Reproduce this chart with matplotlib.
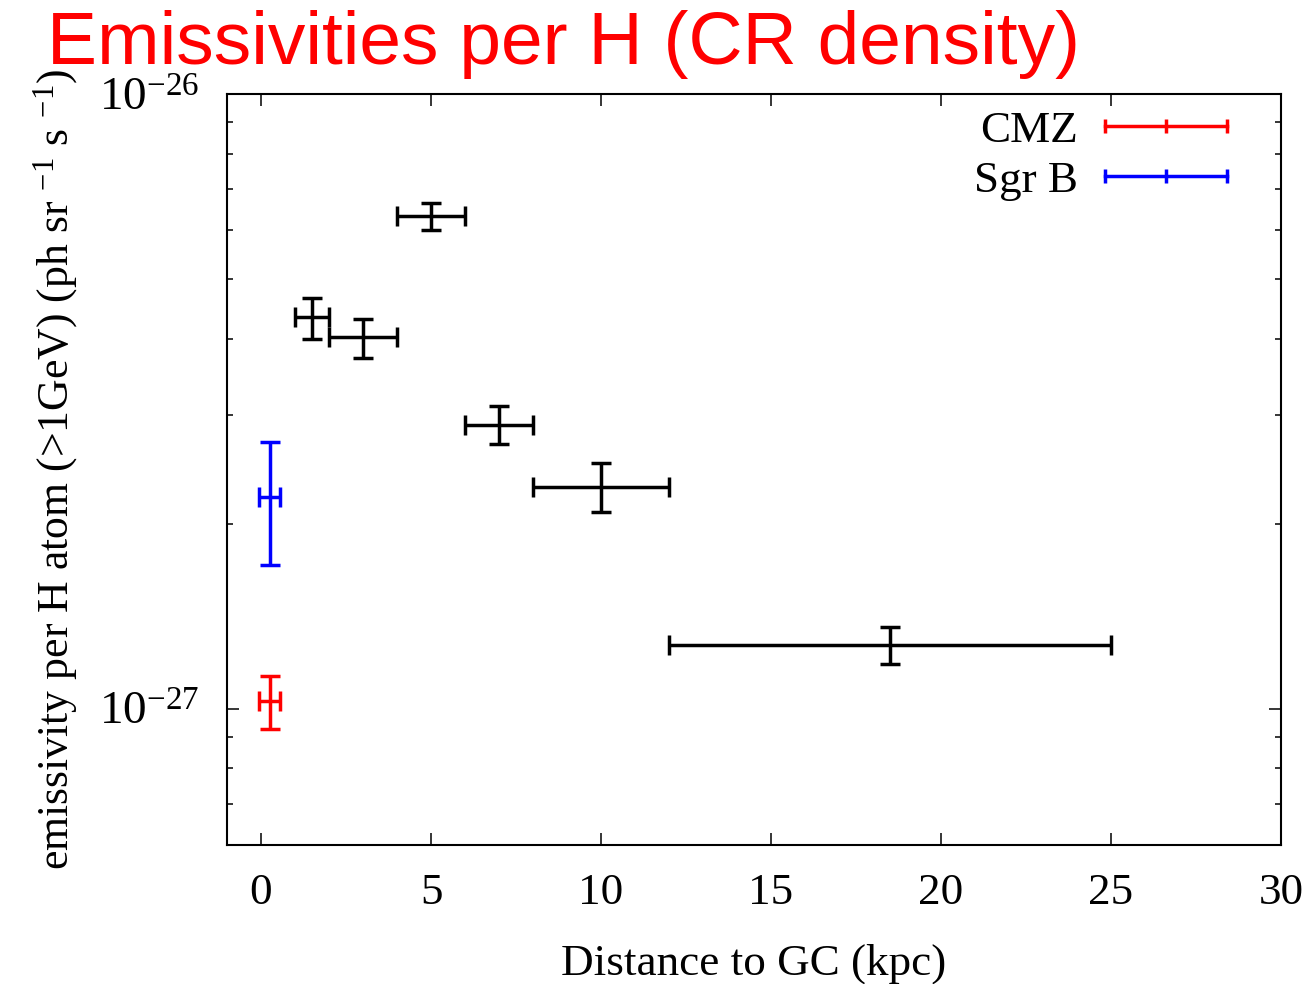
import numpy as np
import matplotlib
matplotlib.use('Agg')
import matplotlib.pyplot as plt
from matplotlib.lines import Line2D
from matplotlib.legend_handler import HandlerLine2D
from matplotlib.ticker import FixedLocator, LogFormatterSciNotation

plt.rcParams['font.family'] = ['Liberation Serif', 'DejaVu Serif']
plt.rcParams['mathtext.fontset'] = 'custom'
plt.rcParams['mathtext.rm'] = 'Liberation Serif'
plt.rcParams['mathtext.it'] = 'Liberation Serif:italic'
plt.rcParams['axes.unicode_minus'] = False

# black points: distance to GC (kpc) with bin edges, emissivity with errors
dist = [1.5, 3.0, 5.0, 7.0, 10.0, 18.5]
dist_lo = [1.0, 2.0, 4.0, 6.0, 8.0, 12.0]
dist_hi = [2.0, 4.0, 6.0, 8.0, 12.0, 25.0]
emis = [4.33e-27, 4.02e-27, 6.33e-27, 2.89e-27, 2.29e-27, 1.27e-27]
emis_lo = [4.00e-27, 3.72e-27, 6.01e-27, 2.69e-27, 2.09e-27, 1.18e-27]
emis_hi = [4.66e-27, 4.31e-27, 6.64e-27, 3.11e-27, 2.51e-27, 1.36e-27]

# CMZ and Sgr B
cmz_x, cmz_dx = [0.25], [0.3]
cmz_y, cmz_lo, cmz_hi = [1.03e-27], [0.926e-27], [1.13e-27]
sgrb_x, sgrb_dx = [0.25], [0.3]
sgrb_y, sgrb_lo, sgrb_hi = [2.21e-27], [1.71e-27], [2.71e-27]

xticks = [0, 5, 10, 15, 20, 25, 30]
yticks = [1e-27, 1e-26]
yminor = [6e-28, 7e-28, 8e-28, 9e-28] + [k * 1e-27 for k in range(2, 10)]

fs = 32.5
fig = plt.figure(figsize=(13.14, 9.84), dpi=100)
ax = fig.add_axes([0.1728, 0.1413, 0.8021, 0.7632])

def yerr(y, lo, hi):
    y = np.asarray(y)
    return [y - np.asarray(lo), np.asarray(hi) - y]

ekw = dict(fmt='none', elinewidth=2.5, capsize=7, capthick=2.5)
d = np.asarray(dist)
ax.errorbar(dist, emis, xerr=[d - np.asarray(dist_lo), np.asarray(dist_hi) - d],
            yerr=yerr(emis, emis_lo, emis_hi), ecolor='black', **ekw)
ax.errorbar(cmz_x, cmz_y, xerr=cmz_dx, yerr=yerr(cmz_y, cmz_lo, cmz_hi), ecolor='#ff0000', **ekw)
ax.errorbar(sgrb_x, sgrb_y, xerr=sgrb_dx, yerr=yerr(sgrb_y, sgrb_lo, sgrb_hi), ecolor='#0000ff', **ekw)

ax.set_yscale('log')
ax.set_xlim(-1, 30)
ax.set_ylim(6e-28, 1e-26)
ax.set_xticks(xticks)
ax.xaxis.set_minor_locator(FixedLocator([]))
ax.yaxis.set_major_locator(FixedLocator(yticks))
ax.yaxis.set_major_formatter(LogFormatterSciNotation())
ax.yaxis.set_minor_locator(FixedLocator(yminor))
ax.yaxis.set_minor_formatter(plt.NullFormatter())

for s in ax.spines.values():
    s.set_linewidth(1.5)
ax.tick_params(which='both', direction='in', top=True, right=True, labelsize=fs, width=1.1)
ax.tick_params(axis='x', which='major', length=8.5, pad=20)
ax.tick_params(axis='y', which='major', length=8.5, pad=20, labelsize=fs + 1.5)
ax.tick_params(which='minor', length=4.3)

ax.set_xlabel('Distance to GC (kpc)', fontsize=fs, labelpad=22)
ax.set_ylabel('emissivity per H atom (>1GeV) (ph sr $^{-1}$ s $^{-1}$)', fontsize=31.5, labelpad=14)

fig.text(0.036, 0.935, 'Emissivities per H (CR density)', color='#ff0000',
         fontsize=54, family=['Liberation Sans', 'DejaVu Sans'], ha='left', va='baseline')

h_cmz = Line2D([], [], color='#ff0000', lw=2.5, marker='|', markersize=10, markeredgewidth=2.5)
h_sgrb = Line2D([], [], color='#0000ff', lw=2.5, marker='|', markersize=10, markeredgewidth=2.5)
hm = HandlerLine2D(numpoints=3, marker_pad=0)
ax.legend([h_cmz, h_sgrb], ['CMZ', 'Sgr B'], loc='upper right', bbox_to_anchor=(0.9488, 0.978),
          frameon=False, markerfirst=False, fontsize=fs, handlelength=2.7,
          handletextpad=0.6, labelspacing=0.2, borderpad=0, borderaxespad=0,
          handler_map={h_cmz: hm, h_sgrb: hm})

fig.savefig('out.png', dpi=100)
